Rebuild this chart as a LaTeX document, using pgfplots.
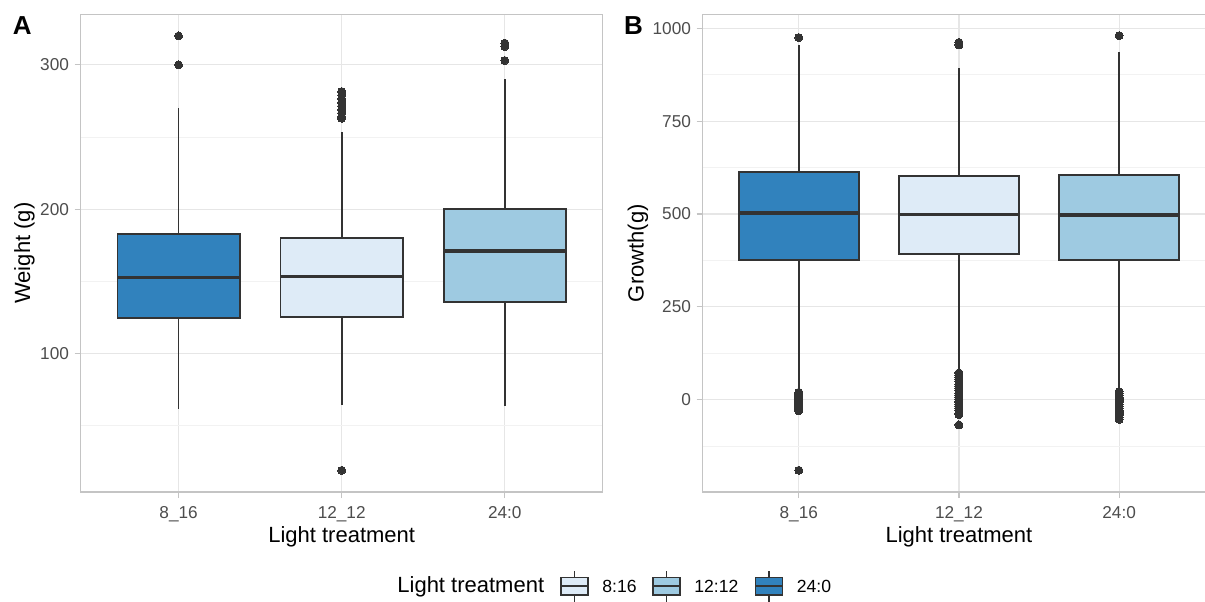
\documentclass[border=0pt]{standalone}
\usepackage{fontspec}
\setmainfont{Liberation Sans}
\usepackage{pgfplots}
\pgfplotsset{compat=1.18}
\usepgfplotslibrary{statistics}
\definecolor{cdark}{HTML}{3182BD}
\definecolor{cmid}{HTML}{9ECAE1}
\definecolor{clight}{HTML}{DEEBF7}
\definecolor{cline}{HTML}{333333}
\definecolor{cframe}{HTML}{C4C4C4}
\definecolor{cgrid}{HTML}{E6E6E6}
\definecolor{cminor}{HTML}{F2F2F2}
\definecolor{ctick}{HTML}{4D4D4D}
\pgfplotsset{
  ggbox/.style={
    scale only axis,
    anchor=south west,
    height=238.85pt,
    xmin=0.4, xmax=3.6,
    xtick={1,2,3},
    xticklabels={8\_16,12\_12,24:0},
    xmajorgrids, ymajorgrids, yminorgrids,
    major grid style={draw=cgrid, line width=0.6pt},
    minor grid style={draw=cminor, line width=0.4pt},
    axis line style={draw=cframe, line width=0.7pt},
    tick pos=left,
    tick align=outside,
    major tick length=3pt,
    minor tick length=0pt,
    tick style={draw=cframe, line width=0.6pt},
    /pgf/number format/assume math mode=true,
    /pgf/number format/set thousands separator={},
    ticklabel style={font=\fontsize{8.6}{10}\selectfont, text=ctick},
    xticklabel style={anchor=base, inner sep=0pt, yshift=-10pt},
    yticklabel style={anchor=east, inner sep=0pt, xshift=-2.7pt},
    xlabel={Light treatment},
    xlabel style={font=\fontsize{11}{13}\selectfont, at={(axis description cs:0.5,0)}, anchor=base, inner sep=0pt, yshift=-25.35pt},
    ylabel style={font=\fontsize{11}{13}\selectfont, anchor=center, inner sep=0pt},
    boxplot/draw direction=y,
    boxplot/box extend=0.75,
    boxplot/whisker extend=0,
    boxplot/every median/.style={line width=1.7pt},
  },
  bx/.style={
    draw=cline, line width=0.9pt, fill=#1,
    mark=*, mark size=2pt,
    mark options={draw=cline, fill=cline, line width=0pt},
  },
}
\begin{document}
\begin{tikzpicture}
\path[use as bounding box, clip] (0,0) rectangle (602.5pt,300.5pt);
\fill[white] (0,0) rectangle (602.5pt,300.5pt);
% ---------- Panel A ----------
\begin{axis}[ggbox,
  at={(40.35pt,54.5pt)}, width=261pt,
  ymin=4.2, ymax=335,
  ytick={100,200,300}, minor ytick={50,150,250},
  ylabel={Weight (g)},
  ylabel style={at={(axis description cs:-0.108,0.5)}},
]
\addplot[bx=cdark, boxplot prepared={draw position=1, lower whisker=61.9, lower quartile=124.7, median=152.7, upper quartile=183, upper whisker=270}]
  table[row sep=\\, y index=0] {y\\ 320\\ 300\\};
\addplot[bx=clight, boxplot prepared={draw position=2, lower whisker=64.7, lower quartile=125.4, median=153.6, upper quartile=180, upper whisker=253.8}]
  table[row sep=\\, y index=0] {y\\ 281.5\\ 279\\ 276.5\\ 274\\ 271.5\\ 269\\ 266.5\\ 264\\ 263\\ 19.2\\};
\addplot[bx=cmid, boxplot prepared={draw position=3, lower whisker=63.7, lower quartile=135.8, median=171.2, upper quartile=200, upper whisker=290}]
  table[row sep=\\, y index=0] {y\\ 315\\ 312.7\\ 303\\};
\end{axis}
% ---------- Panel B ----------
\begin{axis}[ggbox,
  at={(351.35pt,54.5pt)}, width=256.25pt,
  ymin=-248.5, ymax=1037.6,
  ytick={0,250,500,750,1000}, minor ytick={-125,125,375,625,875},
  ylabel={Growth(g)},
  ylabel style={at={(axis description cs:-0.1262,0.5)}},
]
\addplot[bx=cdark, boxplot prepared={draw position=1, lower whisker=24, lower quartile=376, median=503, upper quartile=613, upper whisker=955}]
  table[row sep=\\, y index=0] {y\\ 975\\ 20\\ 16\\ 12\\ 8\\ 4\\ 0\\ -4\\ -8\\ -12\\ -16\\ -20\\ -25\\ -30\\ -190\\};
\addplot[bx=clight, boxplot prepared={draw position=2, lower whisker=82, lower quartile=393, median=499, upper quartile=602, upper whisker=892}]
  table[row sep=\\, y index=0] {y\\ 962\\ 955\\ 72\\ 66\\ 60\\ 54\\ 48\\ 42\\ 36\\ 30\\ 24\\ 18\\ 12\\ 6\\ 0\\ -6\\ -12\\ -18\\ -24\\ -30\\ -36\\ -40\\ -68\\};
\addplot[bx=cmid, boxplot prepared={draw position=3, lower whisker=30, lower quartile=376, median=497, upper quartile=606, upper whisker=937}]
  table[row sep=\\, y index=0] {y\\ 980\\ 22\\ 17\\ 12\\ 7\\ 2\\ -3\\ -8\\ -13\\ -18\\ -23\\ -28\\ -33\\ -38\\ -43\\ -48\\ -53\\};
\end{axis}
% ---------- Panel labels ----------
\node[anchor=base west, inner sep=0pt, font=\fontsize{13}{15}\selectfont\bfseries] at (6.2pt,283pt) {A};
\node[anchor=base west, inner sep=0pt, font=\fontsize{13}{15}\selectfont\bfseries] at (311.8pt,283pt) {B};
% ---------- Legend (px coordinates) ----------
\begin{scope}[x=0.5pt, y=-0.5pt, yshift=300.5pt]
  \node[anchor=west, inner sep=0pt, font=\fontsize{11}{13}\selectfont] at (397,586.5) {Light treatment};
  \foreach \xa/\col/\lab in {561/clight/8:16, 653/cmid/12:12, 755.5/cdark/24:0}{
    \draw[cline, line width=0.6pt] (\xa+13.5,571) -- (\xa+13.5,577.5);
    \draw[cline, line width=0.6pt] (\xa+13.5,595) -- (\xa+13.5,602);
    \filldraw[fill=\col, draw=cline, line width=0.75pt] (\xa,577.5) rectangle (\xa+27,595);
    \draw[cline, line width=1.1pt] (\xa,586.3) -- (\xa+27,586.3);
    \node[anchor=west, inner sep=0pt, font=\fontsize{8.8}{10}\selectfont, text=black] at (\xa+41,586.5) {\lab};
  }
\end{scope}
\end{tikzpicture}
\end{document}
